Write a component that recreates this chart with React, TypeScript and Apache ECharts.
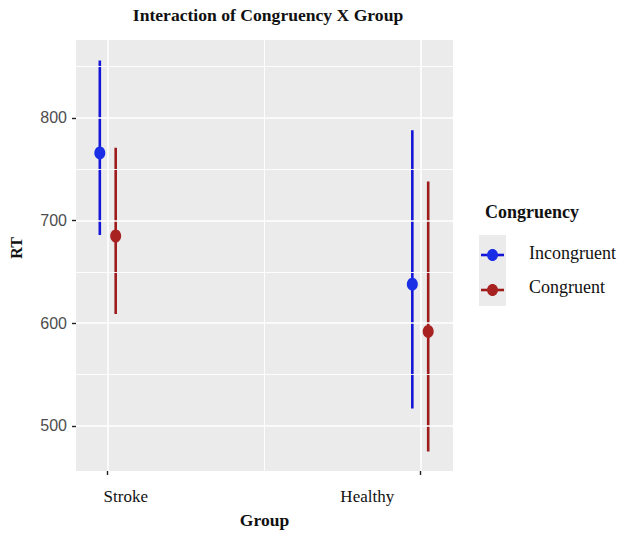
import React, { useEffect, useRef } from "react";
import * as echarts from "echarts";

const categories = ["Stroke", "Healthy"];
const conditions = ["Incongruent", "Congruent"];
const incongruentMean = [766, 638];
const incongruentLow = [686, 517];
const incongruentHigh = [856, 788];
const congruentMean = [685, 592];
const congruentLow = [609, 475];
const congruentHigh = [771, 738];
const yTicks = [500, 600, 700, 800];
const yMinorTicks = [550, 650, 750, 850];
const xMinorTicks = [1.5];

const COLORS = ["#1a2ee6", "#a82222"];
const LINE_COLORS = ["#1515d8", "#9e1c1c"];
const SERIF = "'Liberation Serif', 'Times New Roman', serif";
const SANS_NARROW = "'Liberation Sans Narrow', 'Liberation Sans', Arial, sans-serif";

export default function App() {
  const ref = useRef<HTMLDivElement>(null);
  useEffect(() => {
    if (!ref.current) return;
    const chart = echarts.init(ref.current, undefined, { renderer: "svg" });
    const dodge = 0.0254;
    const xPos = (i: number, s: number) => i + 1 + (s === 0 ? -dodge : dodge);
    const groups = [
      { mean: incongruentMean, low: incongruentLow, high: incongruentHigh },
      { mean: congruentMean, low: congruentLow, high: congruentHigh },
    ];
    const xTickVals = categories.map((_, i) => i + 1);

    const gridLines: any[] = [];
    yTicks.forEach((v) => gridLines.push({ yAxis: v, lineStyle: { color: "#ffffff", width: 1.6, type: "solid" } }));
    yMinorTicks.forEach((v) => gridLines.push({ yAxis: v, lineStyle: { color: "#ffffff", width: 0.9, type: "solid" } }));
    xTickVals.forEach((v) => gridLines.push({ xAxis: v, lineStyle: { color: "#ffffff", width: 1.6, type: "solid" } }));
    xMinorTicks.forEach((v) => gridLines.push({ xAxis: v, lineStyle: { color: "#ffffff", width: 0.9, type: "solid" } }));

    const series: any[] = [
      {
        type: "line",
        data: [],
        z: 1,
        silent: true,
        markLine: {
          silent: true,
          symbol: "none",
          label: { show: false },
          animation: false,
          data: gridLines,
        },
      },
    ];
    groups.forEach((g, s) => {
      series.push({
        type: "custom",
        name: conditions[s] + " CI",
        z: 2,
        silent: true,
        encode: { x: 0, y: [1, 2] },
        data: categories.map((_, i) => [xPos(i, s), g.low[i], g.high[i]]),
        renderItem: (params: any, api: any) => {
          const x = api.value(0);
          const p1 = api.coord([x, api.value(1)]);
          const p2 = api.coord([x, api.value(2)]);
          return {
            type: "line",
            shape: { x1: p1[0], y1: p1[1], x2: p2[0], y2: p2[1] },
            style: { stroke: LINE_COLORS[s], lineWidth: 2.6 },
          };
        },
      });
    });
    groups.forEach((g, s) => {
      series.push({
        type: "scatter",
        name: conditions[s],
        z: 3,
        symbol: "circle",
        symbolSize: [11, 13],
        itemStyle: { color: COLORS[s], opacity: 1 },
        data: categories.map((_, i) => [xPos(i, s), g.mean[i]]),
      });
    });

    const legendX = 479;
    const legendKeys: any[] = [];
    const keyYs = [255, 290];
    const textYs = [253, 287];
    conditions.forEach((c, s) => {
      legendKeys.push({
        type: "line",
        shape: { x1: legendX + 2, y1: keyYs[s], x2: legendX + 25, y2: keyYs[s] },
        style: { stroke: LINE_COLORS[s], lineWidth: 2.6 },
      });
      legendKeys.push({
        type: "ellipse",
        shape: { cx: legendX + 13.5, cy: keyYs[s], rx: 5.5, ry: 6 },
        style: { fill: COLORS[s] },
      });
      legendKeys.push({
        type: "text",
        x: 529,
        y: textYs[s],
        style: {
          text: c,
          font: `18px ${SERIF}`,
          fill: "#111111",
          textVerticalAlign: "middle",
          verticalAlign: "middle",
        },
      });
    });

    chart.setOption({
      animation: false,
      backgroundColor: "#ffffff",
      grid: {
        left: 73,
        top: 40,
        width: 380,
        height: 431,
        show: true,
        backgroundColor: "#ebebeb",
        borderWidth: 0,
        containLabel: false,
      },
      xAxis: {
        type: "value",
        min: 1 - 32 / 315,
        max: 2 + 33 / 315,
        name: "Group",
        nameLocation: "middle",
        nameGap: 40,
        nameTextStyle: { fontFamily: SERIF, fontWeight: "bold", fontSize: 17.5, color: "#111111" },
        axisLine: { show: false },
        splitLine: { show: false },
        axisTick: {
          show: true,
          customValues: xTickVals,
          length: 4,
          lineStyle: { color: "#222222", width: 1.4 },
        },
        axisLabel: {
          show: true,
          customValues: xTickVals,
          margin: 17,
          formatter: (v: number) => {
            const i = Math.round(v) - 1;
            return i === 0 ? `{s|${categories[i]}}` : `{h|${categories[i]}}`;
          },
          rich: {
            s: { fontFamily: SERIF, fontSize: 17, color: "#111111", padding: [0, 0, 0, 36] },
            h: { fontFamily: SERIF, fontSize: 17, color: "#111111", padding: [0, 106, 0, 0] },
          },
        },
      },
      yAxis: {
        type: "value",
        min: 456,
        max: 876,
        name: "RT",
        nameLocation: "middle",
        nameRotate: 90,
        nameGap: 52,
        nameTextStyle: {
          fontFamily: SERIF,
          fontWeight: "bold",
          fontSize: 16,
          color: "#111111",
          padding: [0, 0, 0, 15],
        },
        axisLine: { show: false },
        splitLine: { show: false },
        axisTick: {
          show: true,
          customValues: yTicks,
          length: 4,
          lineStyle: { color: "#222222", width: 1.4 },
        },
        axisLabel: {
          show: true,
          customValues: yTicks,
          margin: 9,
          fontFamily: SANS_NARROW,
          fontSize: 16,
          color: "#4d4d4d",
        },
      },
      series,
      graphic: [
        {
          type: "text",
          x: 268,
          y: 15,
          style: {
            text: "Interaction of Congruency X Group",
            font: `bold 17.6px ${SERIF}`,
            fill: "#111111",
            textAlign: "center",
            align: "center",
            textVerticalAlign: "middle",
            verticalAlign: "middle",
          },
        },
        {
          type: "text",
          x: 485,
          y: 212,
          style: {
            text: "Congruency",
            font: `bold 18px ${SERIF}`,
            fill: "#111111",
            textVerticalAlign: "middle",
            verticalAlign: "middle",
          },
        },
        {
          type: "rect",
          shape: { x: legendX, y: 235, width: 27, height: 71 },
          style: { fill: "#ebebeb" },
        },
        ...legendKeys,
      ],
    });
    return () => chart.dispose();
  }, []);
  return (
    <div
      ref={ref}
      style={{ position: "fixed", left: 0, top: 0, width: 624, height: 540, background: "#ffffff" }}
    />
  );
}
